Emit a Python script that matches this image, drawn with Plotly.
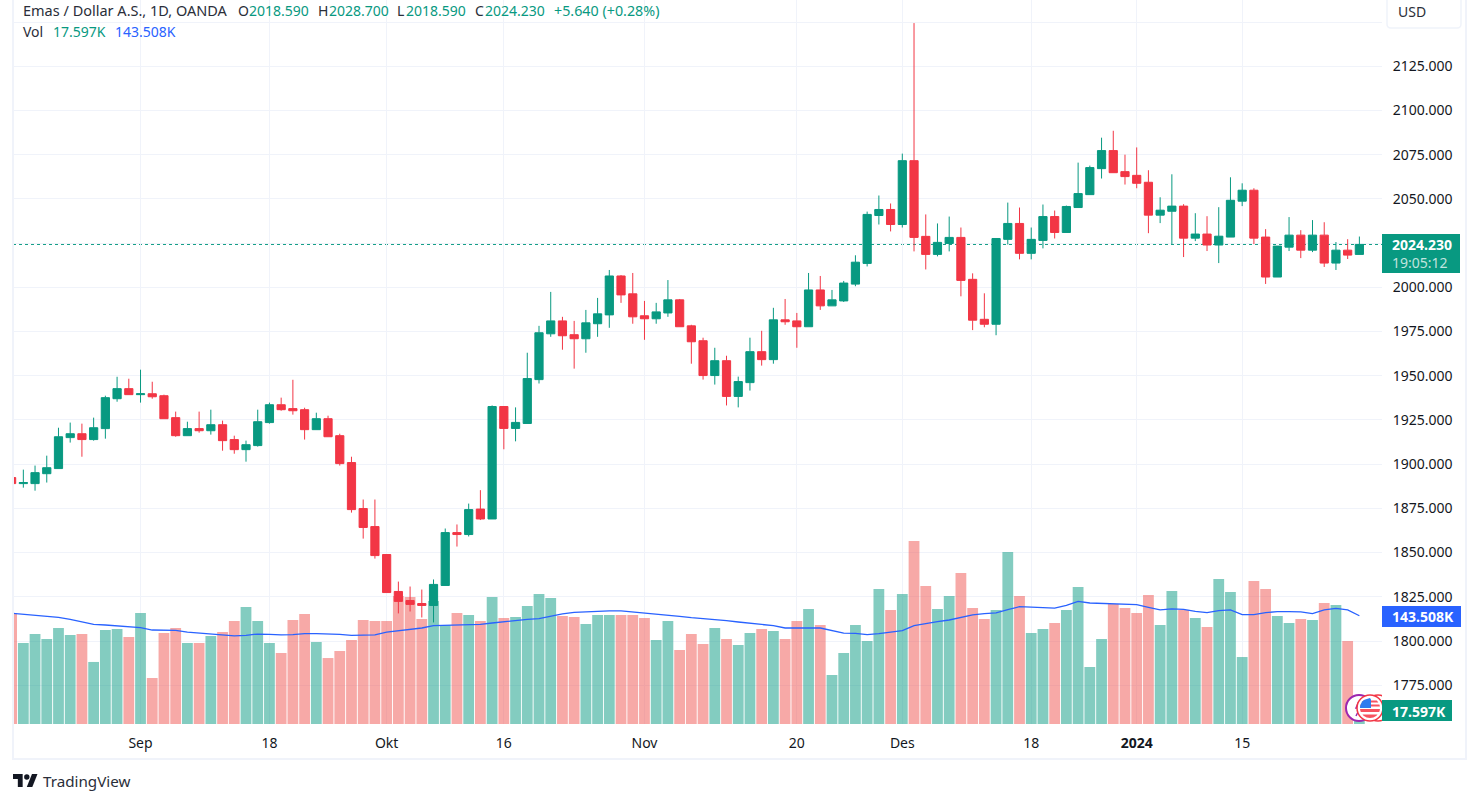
import math
import plotly.graph_objects as go

dates = ["2023-08-17","2023-08-18","2023-08-21","2023-08-22","2023-08-23","2023-08-24","2023-08-25","2023-08-28","2023-08-29","2023-08-30","2023-08-31","2023-09-01",
"2023-09-04","2023-09-05","2023-09-06","2023-09-07","2023-09-08","2023-09-11","2023-09-12","2023-09-13","2023-09-14","2023-09-15",
"2023-09-18","2023-09-19","2023-09-20","2023-09-21","2023-09-22","2023-09-25","2023-09-26","2023-09-27","2023-09-28","2023-09-29",
"2023-10-02","2023-10-03","2023-10-04","2023-10-05","2023-10-06","2023-10-09","2023-10-10","2023-10-11","2023-10-12","2023-10-13",
"2023-10-16","2023-10-17","2023-10-18","2023-10-19","2023-10-20","2023-10-23","2023-10-24","2023-10-25","2023-10-26","2023-10-27",
"2023-10-30","2023-10-31","2023-11-01","2023-11-02","2023-11-03","2023-11-06","2023-11-07","2023-11-08","2023-11-09","2023-11-10",
"2023-11-13","2023-11-14","2023-11-15","2023-11-16","2023-11-17","2023-11-20","2023-11-21","2023-11-22","2023-11-23","2023-11-24",
"2023-11-27","2023-11-28","2023-11-29","2023-11-30","2023-12-01","2023-12-04","2023-12-05","2023-12-06","2023-12-07","2023-12-08",
"2023-12-11","2023-12-12","2023-12-13","2023-12-14","2023-12-15","2023-12-18","2023-12-19","2023-12-20","2023-12-21","2023-12-22",
"2023-12-26","2023-12-27","2023-12-28","2023-12-29","2024-01-02","2024-01-03","2024-01-04","2024-01-05","2024-01-08","2024-01-09",
"2024-01-10","2024-01-11","2024-01-12","2024-01-15","2024-01-16","2024-01-17","2024-01-18","2024-01-19","2024-01-22","2024-01-23",
"2024-01-24","2024-01-25","2024-01-26","2024-01-29"]

opens = [1892.4,1889.0,1889.0,1894.6,1897.5,1915.0,1917.2,1913.9,1920.1,1937.0,1942.7,1939.3,1939.8,1938.7,1926.3,1916.1,1920.1,1918.9,1922.3,1913.9,
1908.2,1910.5,1923.5,1933.6,1931.4,1930.8,1919.5,1925.7,1916.1,1900.9,1874.9,1864.7,1848.9,1828.0,1822.9,1821.2,1820.1,1831.4,1861.3,1860.2,
1874.6,1869.0,1932.6,1920.2,1923.0,1947.8,1973.7,1981.0,1973.2,1970.9,1979.4,1984.4,2006.4,1996.3,1983.9,1982.2,1985.5,1992.9,1978.2,1969.8,
1950.1,1958.5,1938.3,1946.1,1963.6,1959.1,1981.6,1981.0,1977.7,1998.5,1989.5,1992.3,2001.8,2013.5,2040.6,2044.0,2035.5,2071.6,2028.8,2018.6,
2024.8,2028.2,2004.5,1981.9,1979.1,2027.1,2036.1,2019.2,2026.5,2040.0,2031.0,2045.1,2052.4,2067.1,2077.3,2065.4,2063.3,2059.4,2040.8,2043.0,
2045.9,2027.8,2030.1,2023.9,2028.4,2048.7,2054.9,2028.4,2005.8,2022.7,2029.5,2021.0,2029.5,2013.7,2021.0,2018.59]
highs = [1892.4,1896.9,1899.2,1904.8,1920.6,1923.5,1922.9,1926.3,1938.7,1949.4,1948.3,1953.4,1946.6,1939.3,1929.7,1924.0,1929.7,1930.8,1924.6,1916.1,
1913.3,1930.8,1934.8,1937.6,1947.7,1931.9,1929.1,1927.4,1917.2,1904.2,1880.0,1880.0,1848.9,1833.6,1830.8,1829.1,1834.8,1863.6,1865.9,1877.7,
1885.3,1933.2,1932.6,1932.1,1963.0,1978.2,1997.4,1983.3,1981.0,1987.2,1994.0,2009.8,2006.9,2008.1,1992.3,1991.2,2004.1,1993.4,1978.8,1971.5,
1965.8,1961.3,1949.5,1971.5,1975.4,1988.4,1993.4,1985.5,2008.1,2006.4,1998.5,2003.6,2018.1,2042.8,2051.9,2047.4,2075.6,2149.4,2041.2,2036.1,
2040.0,2033.8,2007.9,1996.6,2027.6,2047.9,2045.1,2033.8,2046.8,2043.4,2046.2,2070.5,2068.8,2084.6,2088.5,2075.0,2079.1,2066.2,2050.9,2063.9,
2047.0,2041.9,2040.2,2045.3,2062.2,2058.8,2056.0,2032.9,2023.3,2039.7,2032.3,2038.0,2036.8,2025.6,2027.2,2028.70]
lows = [1889.0,1886.7,1885.0,1889.6,1897.5,1912.2,1904.2,1913.3,1914.4,1935.3,1939.3,1934.8,1937.0,1925.7,1915.5,1916.1,1917.8,1916.7,1907.6,1905.9,
1901.4,1909.9,1922.9,1930.2,1928.0,1913.9,1919.5,1915.5,1899.2,1872.6,1857.9,1846.6,1827.4,1815.6,1816.7,1813.3,1810.5,1831.4,1853.4,1859.1,
1868.4,1869.0,1908.4,1912.9,1923.0,1945.6,1972.0,1964.7,1954.0,1963.0,1972.0,1977.1,1991.2,1979.4,1970.3,1979.4,1983.3,1977.7,1956.8,1947.8,
1945.0,1933.2,1932.1,1941.6,1955.7,1956.8,1978.8,1965.8,1977.7,1987.2,1989.5,1991.7,2000.6,2011.8,2035.5,2031.6,2033.8,2020.3,2010.1,2017.5,
2020.3,1994.9,1975.8,1977.4,1972.9,2024.2,2015.8,2015.8,2022.0,2027.6,2031.0,2045.1,2052.4,2061.5,2064.8,2058.1,2056.0,2030.6,2036.3,2024.4,
2017.1,2026.1,2020.5,2013.7,2028.4,2045.9,2024.4,2001.9,2005.8,2020.5,2016.5,2019.9,2011.5,2009.8,2016.0,2018.59]
closes = [1889.0,1889.6,1895.2,1898.0,1915.5,1917.2,1913.9,1920.6,1937.6,1942.7,1939.3,1939.8,1938.1,1925.7,1916.1,1920.1,1918.9,1922.3,1913.3,1908.2,
1911.0,1924.0,1933.6,1930.8,1930.2,1919.5,1925.7,1915.5,1900.3,1874.3,1864.2,1848.3,1827.4,1822.4,1820.7,1820.1,1832.0,1861.3,1860.2,1874.3,
1869.0,1932.6,1920.2,1923.6,1948.4,1974.3,1981.0,1972.6,1970.9,1979.9,1985.0,2006.4,1995.7,1983.3,1982.2,1986.1,1992.9,1977.7,1969.2,1950.1,
1958.5,1938.3,1946.7,1963.6,1959.1,1981.6,1980.5,1977.7,1998.5,1989.5,1992.9,2002.4,2014.2,2041.2,2044.0,2035.5,2071.6,2028.2,2018.6,2025.4,
2028.2,2003.9,1981.4,1979.1,2027.6,2036.1,2019.2,2027.1,2040.0,2031.0,2045.7,2053.0,2067.7,2077.3,2064.8,2062.6,2058.8,2040.8,2043.6,2045.9,
2027.8,2030.1,2023.9,2028.9,2049.2,2054.9,2027.8,2005.8,2023.3,2029.5,2021.0,2029.5,2013.7,2021.0,2018.2,2024.23]

volumes_k = [146.4,110.9,121.6,115.7,128.8,120.5,121.6,88.2,126.4,127.6,118.1,146.8,69.0,122.8,128.8,110.9,110.9,119.3,124.0,137.2,
153.9,137.2,110.9,98.9,138.4,145.6,112.1,92.9,101.3,114.5,138.4,137.2,137.2,167.1,165.9,139.6,161.1,132.4,146.8,144.4,
137.2,165.9,140.8,142.0,155.1,169.5,164.7,143.2,142.0,133.6,144.4,144.4,144.4,144.4,140.8,114.5,137.2,102.5,121.6,109.7,
128.8,115.7,108.5,122.8,127.6,125.2,115.7,137.2,151.6,132.4,72.6,98.9,132.4,113.3,175.5,150.4,169.5,232.9,179.1,151.6,
167.1,194.6,152.7,139.6,150.4,219.7,167.1,122.8,127.6,134.8,150.4,177.9,82.2,115.7,157.5,152.7,146.8,168.3,132.4,173.1,
150.4,140.8,130.0,187.4,171.9,94.1,185.0,175.5,143.2,134.8,139.6,138.4,158.7,156.3,113.3,17.597]
volume_ma_k = [146.4,145.2,144.4,143.2,141.6,139.2,136.4,133.2,132.4,131.2,129.6,129.2,126.4,126.0,126.0,124.0,122.8,122.0,120.1,119.3,
120.1,121.6,121.2,120.5,120.8,122.0,122.0,122.0,121.2,120.1,120.5,120.5,124.0,125.6,127.2,128.8,131.6,132.0,133.2,133.6,
133.2,134.8,136.4,138.4,139.2,140.0,143.2,145.6,147.6,148.4,148.8,149.2,149.2,148.0,147.2,145.6,144.4,142.8,141.2,140.0,
139.6,137.6,136.0,134.8,133.6,131.6,128.8,128.4,128.8,128.8,125.6,122.8,122.4,120.8,122.0,124.0,125.6,131.6,134.4,136.4,
138.4,141.6,144.4,146.0,146.8,150.8,154.3,153.9,153.1,152.7,155.9,160.7,158.7,158.3,157.9,157.5,156.7,153.5,150.4,151.6,
151.2,148.8,147.2,149.6,150.4,144.8,144.8,147.2,148.4,148.4,148.0,146.0,150.4,152.3,150.4,143.508]

price_ticks = [1775,1800,1825,1850,1875,1900,1925,1950,1975,2000,2025,2050,2075,2100,2125,2150]
price_labels = ["1775.000","1800.000","1825.000","1850.000","1875.000","1900.000","1925.000","1950.000","1975.000","2000.000","","2050.000","2075.000","2100.000","2125.000",""]
time_ticks = ["2023-09-01","2023-09-18","2023-10-02","2023-10-16","2023-11-01","2023-11-20","2023-12-01","2023-12-18","2024-01-02","2024-01-15"]
time_labels = ["Sep","18","Okt","16","Nov","20","Des","18","<b>2024</b>","15"]

UP, DOWN = "#089981", "#F23645"
VOL_UP, VOL_DOWN = "rgba(8,153,129,0.5)", "rgba(239,83,80,0.5)"
GRID, INK, BLUE = "#F0F3FA", "#131722", "#2962FF"
FONT = "Noto Sans"
W, H = 1480, 803
L, R, B = 13, 1382, 724

vol_colors = [VOL_UP if c >= o else VOL_DOWN for o, c in zip(opens, closes)]

fig = go.Figure()
fig.add_trace(go.Bar(x=dates, y=volumes_k, marker=dict(color=vol_colors, line=dict(width=0)), yaxis="y", name="Vol"))
fig.add_trace(go.Scatter(x=dates, y=volume_ma_k, mode="lines", line=dict(color=BLUE, width=1.3), yaxis="y", name="Vol MA"))
fig.add_trace(go.Candlestick(
    x=dates, open=opens, high=highs, low=lows, close=closes, yaxis="y2", name="XAUUSD",
    whiskerwidth=0,
    increasing=dict(line=dict(color=UP, width=1), fillcolor=UP),
    decreasing=dict(line=dict(color=DOWN, width=1), fillcolor=DOWN),
))

def px(x):
    return (x - L) / (R - L)
def py(y):
    return 1 - y / B

shapes = []
def rect(x0, y0, x1, y1, fill, line=None, lw=0):
    shapes.append(dict(type="rect", xref="paper", yref="paper", x0=px(x0), x1=px(x1), y0=py(y1), y1=py(y0),
                       fillcolor=fill, line=dict(color=line or fill, width=lw), layer="above"))
def path(d, fill, line=None, lw=0):
    shapes.append(dict(type="path", xref="paper", yref="paper", path=d, fillcolor=fill,
                       line=dict(color=line or fill, width=lw), layer="above"))
def poly(points, fill):
    path("M " + " L ".join(f"{px(a):.6f},{py(b):.6f}" for a, b in points) + " Z", fill)
def circle(cx, cy, r, fill, line, lw):
    shapes.append(dict(type="circle", xref="paper", yref="paper", x0=px(cx - r), x1=px(cx + r), y0=py(cy + r), y1=py(cy - r),
                       fillcolor=fill, line=dict(color=line, width=lw), layer="above"))
def band(cx, cy, r, y0, y1, x_max, fill):
    pts = []
    n = 6
    ys = [y0 + (y1 - y0) * i / n for i in range(n + 1)]
    for y in ys:
        pts.append((cx - math.sqrt(max(r * r - (y - cy) ** 2, 0)), y))
    for y in reversed(ys):
        pts.append((min(cx + math.sqrt(max(r * r - (y - cy) ** 2, 0)), x_max), y))
    poly(pts, fill)

# last price dotted line
shapes.append(dict(type="line", xref="paper", yref="y2", x0=0, x1=1, y0=closes[-1], y1=closes[-1],
                   line=dict(color=UP, width=1, dash="dot"), layer="below"))

# panel borders
rect(12, 0, 14, 759, GRID)
rect(12, 758, 1467, 760, GRID)
rect(1465, 0, 1467, 760, GRID)

# event badges
circle(1378, 708, 13, "#FFFFFF", DOWN, 1.5)
circle(1359, 708, 13, "#FFFFFF", "#9C27B0", 2)
path(f"M {px(1359)},{py(701)} L {px(1356)},{py(708)} L {px(1360)},{py(708)} L {px(1356)},{py(716)}", "rgba(0,0,0,0)", "#9C27B0", 1.5)
circle(1370, 708, 13, "#FFFFFF", DOWN, 1.5)
CX, CY, RR = 1370, 708, 10
band(CX, CY, RR, 698, 708, 1382, "#FFFFFF")
band(CX, CY, RR, 700.5, 702.5, 1382, "#F7525F")
band(CX, CY, RR, 704.5, 706.5, 1382, "#F7525F")
band(CX, CY, RR, 709, 712, 1382, "#F7525F")
band(CX, CY, RR, 714.5, 718, 1382, "#F7525F")
band(CX, CY, RR, 698, 708, 1371, "#2E7BEF")
rect(1382, 693, 1396, 726, "#FFFFFF")

# USD box
path(f"M {px(1387)},{py(-4)} L {px(1387)},{py(24)} Q {px(1387)},{py(28)} {px(1391)},{py(28)} "
     f"L {px(1457)},{py(28)} Q {px(1461)},{py(28)} {px(1461)},{py(24)} L {px(1461)},{py(-4)}",
     "#FFFFFF", GRID, 1.5)

# price-scale labels
rect(1382, 234, 1460, 273, UP)
rect(1382, 606, 1461, 627, BLUE)
rect(1382, 700, 1452, 721, UP)

# TradingView logo
sx, sy = 0.69, 0.72
ox, oy = 13, 771.2
def lg(a, b):
    return (ox + a * sx, oy + b * sy)
poly([lg(14, 22), lg(7, 22), lg(7, 11), lg(0, 11), lg(0, 4), lg(14, 4)], "#131722")
poly([lg(28, 22), lg(20, 22), lg(27.5, 4), lg(35.5, 4)], "#131722")
circle(*lg(20, 8), 2.7, "#131722", "#131722", 0)

ann = []
def text(x, y, s, color=INK, size=14, anchor="left"):
    ann.append(dict(xref="paper", yref="paper", x=px(x), y=py(y), text=s, showarrow=False,
                    xanchor=anchor, yanchor="middle", align="left", xshift=0,
                    font=dict(family=FONT, size=size, color=color), bgcolor="rgba(0,0,0,0)", borderpad=0, borderwidth=0))

text(23, 10.5, "Emas / Dollar A.S., 1D, OANDA", "#2A2E39", 14.5)
text(238, 10.5, "O", "#2A2E39"); text(249, 10.5, "2018.590", UP)
text(318, 10.5, "H", "#2A2E39"); text(329, 10.5, "2028.700", UP)
text(397, 10.5, "L", "#2A2E39"); text(406, 10.5, "2018.590", UP)
text(475, 10.5, "C", "#2A2E39"); text(485, 10.5, "2024.230", UP)
text(554, 10.5, "+5.640 (+0.28%)", UP, 14.3)
text(23, 31.5, "Vol", "#2A2E39"); text(53, 31.5, "17.597K", UP); text(115, 31.5, "143.508K", BLUE)
text(1398, 11.5, "USD", "#2A2E39", 14)
text(1392, 244.5, "<b>2024.230</b>", "#FFFFFF", 14)
text(1392, 262.5, "19:05:12", "rgba(255,255,255,0.75)", 14)
text(1392, 616.5, "<b>143.508K</b>", "#FFFFFF", 14)
text(1392, 711, "<b>17.597K</b>", "#FFFFFF", 14)
text(43, 781, "TradingView", "#2A2E39", 15.2)

fig.update_layout(
    template="none", width=W, height=H, showlegend=False,
    paper_bgcolor="#FFFFFF", plot_bgcolor="#FFFFFF",
    margin=dict(l=L, r=W - R, t=0, b=H - B, pad=0),
    barmode="overlay", bargap=0.08, boxgap=0.3, boxgroupgap=0,
    font=dict(family=FONT, size=14, color=INK),
    xaxis=dict(type="category", categoryorder="array", categoryarray=dates, range=[0.119, 116.93],
               tickmode="array", tickvals=time_ticks, ticktext=time_labels, ticks="outside", ticklen=6,
               tickcolor="rgba(0,0,0,0)", tickfont=dict(family=FONT, size=14, color=INK), tickangle=0,
               showgrid=True, gridcolor=GRID, gridwidth=1, showline=False, zeroline=False,
               rangeslider=dict(visible=False), automargin=False),
    yaxis=dict(range=[14, 879.9], showticklabels=False, showgrid=False, ticks="", zeroline=False,
               showline=False, automargin=False),
    yaxis2=dict(range=[1753.07, 2162.45], overlaying="y", side="right", anchor="x",
                tickmode="array", tickvals=price_ticks, ticktext=price_labels, ticks="outside", ticklen=7,
                tickcolor="rgba(0,0,0,0)", tickfont=dict(family=FONT, size=14, color=INK),
                showgrid=True, gridcolor=GRID, gridwidth=1, showline=False, zeroline=False, automargin=False),
    shapes=shapes, annotations=ann,
)
fig.write_html("out.html", config={"displayModeBar": False},
               post_script="document.body.style.margin='0';window.dispatchEvent(new Event('resize'));")
